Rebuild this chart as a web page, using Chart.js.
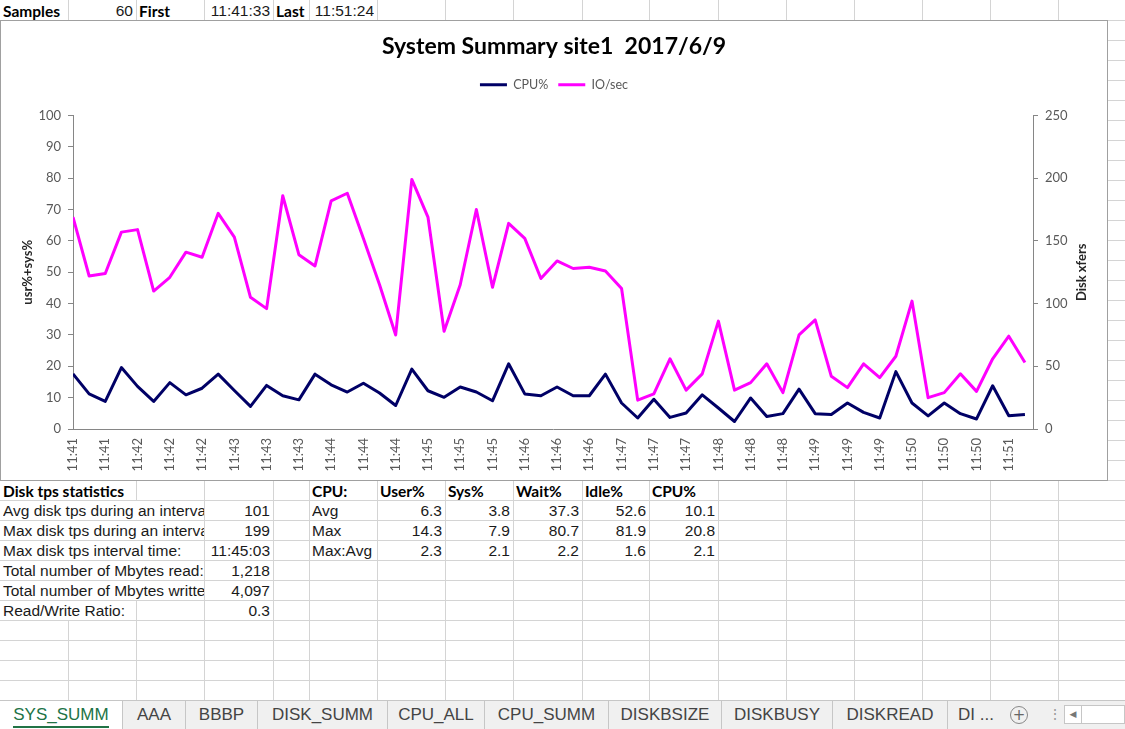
<!DOCTYPE html>
<html>
<head>
<meta charset="utf-8">
<title>SYS_SUMM</title>
<script src="https://cdn.jsdelivr.net/npm/chart.js@4.4.0/dist/chart.umd.min.js"></script>
<style>
	html, body { margin: 0; padding: 0; }
	body {
		width: 1125px; height: 729px; overflow: hidden; position: relative; background: #fff;
		font-family: "Liberation Sans", sans-serif;
	}
	#sheet { position: absolute; left: 0; top: 0; width: 1125px; height: 700px; overflow: hidden; }
	.vl { position: absolute; width: 1px; background: #d4d4d4; }
	.hl { position: absolute; height: 1px; background: #d4d4d4; }
	.cell {
		position: absolute; height: 19px; line-height: 20px; font-size: 15.5px;
		white-space: nowrap; color: #1a1a1a; overflow: hidden;
	}
	.cell.l { background: #fff; padding-right: 1px; }
	.cell.r { text-align: right; }
	.cell.b { font-family: Lato, sans-serif; font-weight: bold; color: #000; font-size: 15.5px; }
	#chartBox {
		position: absolute; left: 0; top: 20px; width: 1108px; height: 461px;
		box-sizing: border-box; border: 1px solid #a0a0a0; background: #fff; z-index: 2;
	}
	#chartBox canvas { display: block; }
	#tabs {
		position: absolute; left: 0; top: 700px; width: 1125px; height: 29px;
		background: #f0f0f0; border-top: 1px solid #c6c6c6; box-sizing: border-box;
	}
	.tab {
		position: absolute; top: 0; height: 28px; line-height: 28px; text-align: center;
		font-size: 17px; color: #444; border-left: 1px solid #c6c6c6; box-sizing: border-box;
	}
	.tab.on { background: #fff; color: #217346; border-left: none; }
	.tab.on span { border-bottom: 2px solid #217346; padding-bottom: 2px; }
	#plus {
		position: absolute; left: 1010px; top: 706px; width: 16px; height: 16px; border-radius: 50%;
		border: 1px solid #888; color: #666; font-size: 15px; line-height: 16px; text-align: center;
		font-family: "DejaVu Sans", sans-serif;
	}
	#dots { position: absolute; left: 1048px; top: 704px; color: #999; font-size: 14px; line-height: 20px; }
	#scroll {
		position: absolute; left: 1064px; top: 705px; width: 61px; height: 19px;
		border: 1px solid #c6c6c6; box-sizing: border-box; background: #fff;
	}
	#scroll .arr {
		position: absolute; left: 0; top: 0; width: 16px; height: 17px; border-right: 1px solid #c6c6c6;
		color: #777; font-size: 9px; line-height: 17px; text-align: center; font-family: "DejaVu Sans", sans-serif;
	}
</style>
</head>
<body>
<div id="sheet"></div>
<div id="chartBox"><canvas id="myChart" width="1106" height="459"></canvas></div>
<div id="tabs"></div>
<div id="plus">+</div>
<div id="dots">⋮</div>
<div id="scroll"><div class="arr">◀</div></div>
<script>
	// sample time (minute) of each of the 60 points
	const times = [
		'11:41', '11:41', '11:41', '11:42', '11:42', '11:42', '11:42', '11:42', '11:42', '11:43',
		'11:43', '11:43', '11:43', '11:43', '11:43', '11:44', '11:44', '11:44', '11:44', '11:44',
		'11:44', '11:45', '11:45', '11:45', '11:45', '11:45', '11:45', '11:46', '11:46', '11:46',
		'11:46', '11:46', '11:46', '11:47', '11:47', '11:47', '11:47', '11:47', '11:47', '11:48',
		'11:48', '11:48', '11:48', '11:48', '11:48', '11:49', '11:49', '11:49', '11:49', '11:49',
		'11:49', '11:50', '11:50', '11:50', '11:50', '11:50', '11:50', '11:51', '11:51', '11:51'
	];
	const cpuPct = [
		17.6, 11.2, 8.8, 19.6, 13.6, 8.8, 14.8, 10.9, 13.0, 17.5,
		12.3, 7.2, 13.9, 10.6, 9.3, 17.5, 14.1, 11.8, 14.6, 11.5,
		7.5, 19.1, 12.2, 10.1, 13.4, 11.8, 9.0, 20.8, 11.2, 10.6,
		13.4, 10.6, 10.6, 17.5, 8.3, 3.5, 9.5, 3.7, 5.1, 10.9,
		6.7, 2.4, 9.9, 4.0, 4.9, 12.7, 4.9, 4.6, 8.3, 5.3,
		3.5, 18.3, 8.3, 4.2, 8.3, 4.9, 3.2, 13.8, 4.2, 4.6
	];
	const ioSec = [
		169, 122, 124, 157, 159, 110, 121, 141, 137, 172,
		153, 105, 96, 186, 139, 130, 182, 188, 152, 115,
		75, 199, 169, 78, 115, 175, 113, 164, 152, 120,
		134, 128, 129, 126, 112, 23, 28, 56, 31, 44,
		86, 31, 37, 52, 29, 75, 87, 42, 33, 52,
		41, 58, 102, 25, 29, 44, 30, 56, 74, 53
	];

	// sheet cells
	const headRow = ['Samples', '60', 'First', '11:41:33', 'Last', '11:51:24'];
	const diskTitle = 'Disk tps statistics';
	const diskLabels = ['Avg disk tps during an interval:', 'Max disk tps during an interval:', 'Max disk tps interval time:',
		'Total number of Mbytes read:', 'Total number of Mbytes written:', 'Read/Write Ratio:'];
	const diskValues = ['101', '199', '11:45:03', '1,218', '4,097', '0.3'];
	const cpuHead = ['CPU:', 'User%', 'Sys%', 'Wait%', 'Idle%', 'CPU%'];
	const cpuRows = [
		['Avg', '6.3', '3.8', '37.3', '52.6', '10.1'],
		['Max', '14.3', '7.9', '80.7', '81.9', '20.8'],
		['Max:Avg', '2.3', '2.1', '2.2', '1.6', '2.1']
	];
	const tabNames = ['SYS_SUMM', 'AAA', 'BBBP', 'DISK_SUMM', 'CPU_ALL', 'CPU_SUMM', 'DISKBSIZE', 'DISKBUSY', 'DISKREAD', 'DI ...'];

	const colX = [0, 68, 136, 204, 273, 309, 377, 445, 513, 582, 649, 718, 786, 854, 922, 990, 1058, 1126];
	const sheet = document.getElementById('sheet');

	function box(cls, x, y, w, h) {
		const d = document.createElement('div');
		d.className = cls;
		d.style.left = x + 'px'; d.style.top = y + 'px';
		if (w) d.style.width = w + 'px';
		if (h) d.style.height = h + 'px';
		sheet.appendChild(d);
		return d;
	}
	for (let y = 20; y < 700; y += 20) box('hl', 0, y, 1125, 0);
	for (let c = 1; c < colX.length; c++) box('vl', colX[c], 0, 0, 700);

	function cell(col, row, text, kind, clipCol) {
		const y = row * 20 + 1;
		let d;
		if (kind === 'r') {
			d = box('cell r', colX[col] + 1, y, colX[col + 1] - colX[col] - 4, 0);
		} else {
			d = box('cell l' + (kind === 'b' ? ' b' : ''), colX[col] + 3, y, 0, 0);
			if (clipCol) d.style.maxWidth = (colX[clipCol] - colX[col] - 4) + 'px';
		}
		d.textContent = text;
	}

	cell(0, 0, headRow[0], 'b'); cell(1, 0, headRow[1], 'r');
	cell(2, 0, headRow[2], 'b'); cell(3, 0, headRow[3], 'r');
	cell(4, 0, headRow[4], 'b'); cell(5, 0, headRow[5], 'r');

	cell(0, 24, diskTitle, 'b');
	diskLabels.forEach((t, i) => {
		cell(0, 25 + i, t, 'l', 3);
		cell(3, 25 + i, diskValues[i], 'r');
	});
	cpuHead.forEach((t, i) => cell(5 + i, 24, t, 'b'));
	cpuRows.forEach((r, j) => r.forEach((t, i) => cell(5 + i, 25 + j, t, i === 0 ? 'l' : 'r')));

	// sheet tabs
	const tabEdges = [0, 122, 185, 257, 387, 484, 608, 721, 832, 947, 1004];
	const tabs = document.getElementById('tabs');
	tabNames.forEach((n, i) => {
		const t = document.createElement('div');
		t.className = 'tab' + (i === 0 ? ' on' : '');
		t.style.left = tabEdges[i] + 'px';
		t.style.width = (tabEdges[i + 1] - tabEdges[i]) + 'px';
		t.innerHTML = '<span></span>';
		t.firstChild.textContent = n;
		tabs.appendChild(t);
	});

	// chart
	Chart.defaults.font.family = 'Lato';
	Chart.defaults.font.size = 12;
	Chart.defaults.color = '#595959';

	const rightTitle = {
		id: 'rightTitle',
		afterDraw(chart) {
			const ctx = chart.ctx;
			const a = chart.chartArea;
			ctx.save();
			ctx.translate(chart.scales.y1.right - 25, (a.top + a.bottom) / 2);
			ctx.rotate(-Math.PI / 2);
			ctx.font = 'bold 13px Lato';
			ctx.fillStyle = '#262626';
			ctx.textAlign = 'center';
			ctx.textBaseline = 'middle';
			ctx.fillText('Disk xfers', 0, 0);
			ctx.restore();
		}
	};

	const ctx = document.getElementById('myChart').getContext('2d');
	const myChart = new Chart(ctx, {
		type: 'line',
		data: {
			datasets: [{
				label: 'CPU%',
				data: cpuPct.map((v, i) => ({x: i, y: v})),
				yAxisID: 'y',
				borderColor: '#000066',
				backgroundColor: '#000066',
				borderWidth: 3,
				pointRadius: 0,
				tension: 0,
				borderJoinStyle: 'round'
			}, {
				label: 'IO/sec',
				data: ioSec.map((v, i) => ({x: i, y: v})),
				yAxisID: 'y1',
				borderColor: '#ff00ff',
				backgroundColor: '#ff00ff',
				borderWidth: 3,
				pointRadius: 0,
				tension: 0,
				borderJoinStyle: 'round'
			}]
		},
		options: {
			responsive: false,
			animation: false,
			devicePixelRatio: 1,
			layout: {padding: 0},
			plugins: {
				title: {
					display: true,
					text: 'System Summary site1  2017/6/9',
					color: '#000',
					font: {size: 23, weight: 'bold'},
					padding: {top: 12, bottom: 8}
				},
				legend: {
					display: true,
					labels: {
						usePointStyle: true,
						pointStyle: 'line',
						pointStyleWidth: 27,
						padding: 10,
						color: '#595959',
						font: {size: 12.5}
					}
				},
				subtitle: {
					display: true,
					text: '',
					weight: 500,
					padding: 0,
					font: {size: 12}
				},
				tooltip: {enabled: false}
			},
			scales: {
				x: {
					type: 'linear',
					min: 0,
					max: 59.5,
					afterFit: s => { s.height = 51; },
					grid: {display: false, drawTicks: false},
					border: {display: true, color: '#868686'},
					ticks: {
						stepSize: 1,
						autoSkip: false,
						minRotation: 90,
						maxRotation: 90,
						padding: 9,
						color: '#595959',
						font: {size: 13},
						callback: v => (Number.isInteger(v) && v % 2 === 0 && v < times.length) ? times[v] : ''
					}
				},
				y: {
					position: 'left',
					min: 0,
					max: 100,
					afterFit: s => { s.width = 72; },
					grid: {drawOnChartArea: false, drawTicks: true, tickLength: 5, color: '#868686'},
					border: {color: '#868686'},
					ticks: {stepSize: 10, padding: 7, color: '#595959', font: {size: 13}},
					title: {
						display: true,
						text: 'usr%+sys%',
						color: '#262626',
						font: {size: 13, weight: 'bold'},
						padding: {top: 19, bottom: 0}
					}
				},
				y1: {
					position: 'right',
					min: 0,
					max: 250,
					afterFit: s => { s.width = 74; },
					grid: {drawOnChartArea: false, drawTicks: true, tickLength: 5, color: '#868686'},
					border: {color: '#868686'},
					ticks: {stepSize: 50, padding: 7, color: '#595959', font: {size: 13}}
				}
			}
		},
		plugins: [rightTitle]
	});
</script>
</body>
</html>
